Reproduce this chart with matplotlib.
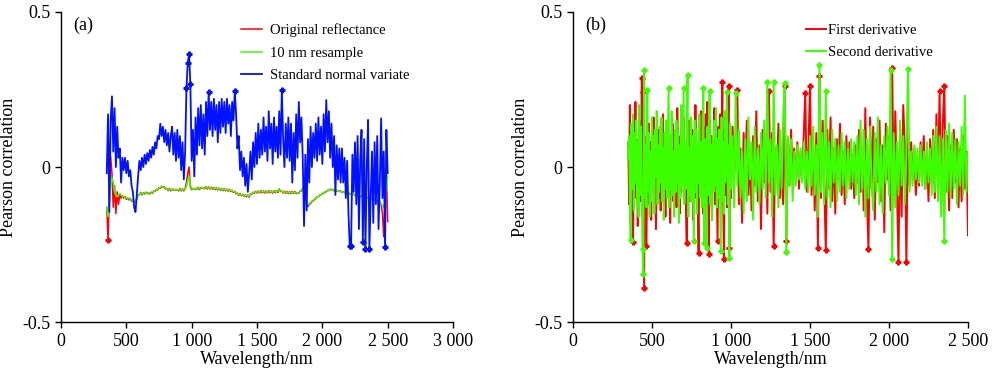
import matplotlib
matplotlib.use('Agg')
import matplotlib.pyplot as plt
import numpy as np

plt.rcParams['font.family'] = ['Liberation Serif', 'DejaVu Serif']
plt.rcParams['font.size'] = 13

RED = '#ff0000'
GREEN = '#3cff00'
BLUE = '#0011ff'

# ---- panel (a): correlation of raw / resampled / SNV spectra ----
WL_A = np.arange(350, 2501, 10)

ORIGINAL = [
    -0.13, -0.236, -0.09, 0.035, -0.02, -0.13, -0.06, -0.15, -0.08, -0.12,
    -0.09, -0.1, -0.092, -0.1, -0.095, -0.104, -0.1, -0.106, -0.101, -0.11,
    -0.106, -0.114, -0.11, -0.104, -0.09, -0.089, -0.082, -0.09, -0.083, -0.087,
    -0.081, -0.086, -0.083, -0.087, -0.081, -0.085, -0.077, -0.079, -0.072, -0.074,
    -0.066, -0.069, -0.062, -0.066, -0.063, -0.071, -0.069, -0.076, -0.069, -0.077,
    -0.071, -0.074, -0.072, -0.075, -0.073, -0.077, -0.069, -0.077, -0.07, -0.077,
    -0.07, -0.05, -0.02, 0.0, -0.065, -0.073, -0.07, -0.071, -0.069, -0.072,
    -0.065, -0.073, -0.066, -0.069, -0.067, -0.07, -0.063, -0.071, -0.064, -0.071,
    -0.065, -0.072, -0.066, -0.073, -0.067, -0.074, -0.068, -0.075, -0.069, -0.076,
    -0.07, -0.077, -0.071, -0.078, -0.072, -0.079, -0.075, -0.082, -0.078, -0.086,
    -0.084, -0.091, -0.085, -0.092, -0.088, -0.094, -0.09, -0.096, -0.09, -0.097,
    -0.086, -0.088, -0.081, -0.085, -0.078, -0.084, -0.077, -0.083, -0.076, -0.083,
    -0.077, -0.084, -0.077, -0.083, -0.076, -0.083, -0.077, -0.084, -0.076, -0.083,
    -0.075, -0.082, -0.071, -0.079, -0.077, -0.084, -0.078, -0.085, -0.078, -0.086,
    -0.079, -0.086, -0.078, -0.085, -0.079, -0.086, -0.083, -0.085, -0.077, -0.078,
    -0.068, -0.07, -0.095, -0.114, -0.128, -0.12, -0.117, -0.111, -0.109, -0.105,
    -0.102, -0.096, -0.096, -0.09, -0.09, -0.085, -0.085, -0.08, -0.08, -0.075,
    -0.076, -0.071, -0.074, -0.072, -0.077, -0.072, -0.078, -0.076, -0.079, -0.077,
    -0.082, -0.08, -0.083, -0.081, -0.087, -0.082, -0.088, -0.086, -0.089, -0.087,
    -0.092, -0.09, -0.093, -0.091, -0.097, -0.092, -0.098, -0.096, -0.099, -0.097,
    -0.102, -0.1, -0.103, -0.102, -0.108, -0.103, -0.11, -0.108, -0.114, -0.112,
    -0.12, -0.15, -0.225, -0.1, -0.015, -0.176,
]

RESAMPLE = [
    -0.13, -0.16, -0.11, -0.06, -0.035, -0.05, -0.08, -0.09, -0.095, -0.09,
    -0.085, -0.09, -0.095, -0.094, -0.098, -0.1, -0.102, -0.1, -0.104, -0.106,
    -0.108, -0.11, -0.108, -0.1, -0.092, -0.086, -0.084, -0.087, -0.085, -0.083,
    -0.084, -0.082, -0.085, -0.083, -0.084, -0.082, -0.079, -0.076, -0.074, -0.071,
    -0.068, -0.066, -0.064, -0.063, -0.065, -0.068, -0.071, -0.073, -0.071, -0.074,
    -0.073, -0.071, -0.074, -0.072, -0.075, -0.074, -0.071, -0.074, -0.072, -0.074,
    -0.072, -0.062, -0.045, -0.03, -0.058, -0.07, -0.072, -0.068, -0.071, -0.069,
    -0.067, -0.07, -0.068, -0.066, -0.069, -0.067, -0.065, -0.068, -0.066, -0.068,
    -0.067, -0.069, -0.068, -0.07, -0.069, -0.071, -0.07, -0.072, -0.071, -0.073,
    -0.072, -0.074, -0.073, -0.075, -0.074, -0.076, -0.077, -0.079, -0.08, -0.083,
    -0.086, -0.088, -0.087, -0.089, -0.09, -0.091, -0.092, -0.093, -0.092, -0.094,
    -0.088, -0.085, -0.083, -0.082, -0.08, -0.081, -0.079, -0.08, -0.078, -0.08,
    -0.079, -0.081, -0.079, -0.08, -0.078, -0.08, -0.079, -0.081, -0.078, -0.08,
    -0.077, -0.079, -0.074, -0.076, -0.079, -0.081, -0.08, -0.082, -0.08, -0.083,
    -0.081, -0.083, -0.08, -0.082, -0.081, -0.083, -0.085, -0.082, -0.079, -0.075,
    -0.07, -0.066, -0.09, -0.11, -0.122, -0.118, -0.114, -0.11, -0.107, -0.104,
    -0.1, -0.097, -0.094, -0.091, -0.088, -0.086, -0.083, -0.081, -0.078, -0.076,
    -0.074, -0.073, -0.072, -0.074, -0.075, -0.073, -0.076, -0.078, -0.077, -0.079,
    -0.08, -0.082, -0.081, -0.083, -0.085, -0.084, -0.086, -0.088, -0.087, -0.089,
    -0.09, -0.092, -0.091, -0.093, -0.095, -0.094, -0.096, -0.098, -0.097, -0.099,
    -0.1, -0.102, -0.101, -0.104, -0.106, -0.105, -0.108, -0.11, -0.112, -0.115,
    -0.118, -0.125, -0.13, -0.11, -0.07, -0.03,
]

SNV = [
    -0.02, 0.17, -0.145, 0.15, 0.228, 0.05, 0.19, 0.0, 0.13, 0.03,
    0.06, -0.05, 0.03, -0.01, 0.03, -0.02, 0.02, -0.03, -0.01, -0.06,
    -0.08, -0.13, -0.145, -0.09, -0.03, 0.02, -0.01, 0.03, 0.0, 0.04,
    0.01, 0.045, 0.02, 0.055, 0.03, 0.065, 0.04, 0.08, 0.06, 0.1,
    0.09, 0.14, 0.1, 0.13, 0.08, 0.12, 0.07, 0.11, 0.05, 0.1,
    0.13, 0.04, 0.11, 0.02, 0.12, 0.03, 0.1, -0.01, 0.08, -0.04,
    0.05, 0.254, 0.337, 0.364, 0.267, 0.02, 0.12, -0.03, 0.16, 0.04,
    0.19, 0.07, 0.2, 0.06, 0.17, 0.04, 0.21, 0.1, 0.242, 0.12,
    0.21, 0.1, 0.22, 0.12, 0.2, 0.08, 0.21, 0.11, 0.22, 0.13,
    0.21, 0.11, 0.22, 0.14, 0.2, 0.1, 0.21, 0.15, 0.245, 0.17,
    0.06, 0.1, -0.01, 0.05, -0.03, 0.03, -0.06, 0.01, -0.08, -0.02,
    0.05, -0.04, 0.08, 0.0, 0.11, 0.01, 0.14, 0.03, 0.12, 0.04,
    0.16, 0.05, 0.13, 0.02, 0.18, 0.06, 0.14, 0.01, 0.16, 0.05,
    0.13, 0.03, 0.18, 0.04, 0.249, 0.09, 0.0, 0.14, 0.03, 0.16,
    0.02, 0.14, -0.05, 0.11, -0.01, 0.17, 0.03, 0.21, 0.08, 0.16,
    0.03, -0.19, 0.04, -0.14, 0.09, -0.05, 0.13, 0.0, 0.11, 0.03,
    0.14, 0.02, 0.16, 0.04, 0.13, 0.01, 0.17, 0.05, 0.216, 0.08,
    0.18, 0.03, 0.14, 0.0, 0.1, -0.09, 0.07, -0.04, 0.06, -0.05,
    0.06, -0.05, 0.03, -0.1, 0.02, -0.15, -0.256, -0.256, 0.04, -0.08,
    0.08, -0.12, 0.1, -0.2, 0.02, 0.12, -0.243, 0.09, -0.265, 0.0,
    0.152, -0.265, -0.1, 0.05, -0.18, 0.08, -0.12, 0.1, -0.2, -0.05,
    0.157, -0.1, 0.05, -0.259, 0.12, -0.02,
]

# ---- panel (b): correlation of derivative spectra ----
WL_B = np.concatenate([np.arange(350, 1000, 5), np.arange(1000, 2501, 10)])

FIRST_DER = [
    0.08, -0.12, 0.2, -0.05, 0.1, -0.15, -0.241, 0.12, -0.06, 0.21,
    -0.1, 0.04, -0.19, 0.09, -0.03, 0.15, -0.11, 0.286, 0.243, -0.06,
    -0.391, 0.1, -0.07, -0.255, 0.06, -0.12, 0.14, -0.02, 0.08, -0.17,
    0.11, -0.05, 0.16, -0.09, 0.03, -0.2, 0.07, -0.04, 0.12, -0.1,
    0.05, -0.14, 0.1, -0.02, 0.17, -0.08, 0.03, -0.16, 0.09, -0.06,
    0.12, -0.1, 0.06, -0.18, 0.04, -0.03, 0.14, -0.11, 0.07, -0.07,
    0.03, -0.13, 0.19, -0.02, 0.1, -0.15, 0.05, -0.08, 0.11, -0.04,
    0.16, -0.09, 0.06, -0.14, -0.244, 0.1, -0.05, 0.15, -0.11, 0.04,
    -0.06, 0.12, -0.17, 0.07, -0.03, 0.2, -0.1, 0.05, -0.13, -0.276,
    0.11, -0.04, 0.18, -0.08, 0.09, -0.15, 0.13, -0.05, 0.17, -0.11,
    0.21, -0.06, -0.28, 0.15, -0.09, 0.1, -0.17, 0.06, -0.03, 0.19,
    -0.12, 0.09, -0.07, -0.238, 0.13, -0.04, 0.17, -0.1, 0.07, 0.275,
    -0.06, -0.296, 0.12, -0.09, 0.18, -0.13, 0.1, 0.262, -0.262, 0.06,
    -0.1, 0.13, -0.04, 0.09, 0.25, -0.12, 0.06, -0.18, 0.11, -0.03,
    0.15, -0.09, 0.04, -0.14, 0.1, -0.06, 0.18, -0.11, 0.07, -0.2,
    0.12, -0.05, 0.09, -0.15, 0.245, -0.08, 0.11, -0.254, 0.06, -0.04,
    0.14, -0.1, 0.05, -0.12, 0.262, -0.239, 0.09, -0.06, 0.12, -0.03,
    0.06, -0.04, 0.08, -0.07, 0.05, -0.02, 0.1, 0.24, -0.08, 0.06,
    0.261, -0.09, 0.07, -0.14, 0.11, -0.26, 0.295, -0.1, 0.15, -0.06,
    -0.268, 0.12, -0.07, 0.16, -0.11, 0.06, -0.15, 0.09, -0.04, 0.14,
    -0.09, 0.05, -0.12, 0.1, -0.03, 0.08, -0.07, 0.04, -0.1, 0.07,
    -0.05, 0.12, -0.08, 0.06, -0.14, 0.19, -0.1, -0.265, 0.16, -0.07,
    0.13, -0.17, 0.09, -0.05, 0.15, -0.11, 0.07, -0.21, 0.14, -0.04,
    0.1, -0.14, 0.32, -0.09, 0.18, -0.06, -0.307, 0.12, -0.16, 0.2,
    0.07, -0.307, 0.14, -0.06, 0.08, -0.04, 0.06, -0.09, 0.03, -0.06,
    0.08, -0.03, 0.1, -0.07, 0.04, -0.11, 0.09, -0.05, 0.12, -0.1,
    0.17, -0.06, 0.244, -0.12, 0.13, 0.262, -0.08, 0.1, -0.14, 0.07,
    -0.1, 0.12, -0.05, 0.09, -0.13, 0.06, -0.11, 0.1, -0.07, 0.05,
    -0.22,
]

SECOND_DER = [
    0.03, 0.1, -0.12, -0.236, 0.14, -0.07, 0.17, -0.14, 0.11, -0.05,
    0.15, -0.12, 0.08, -0.16, 0.2, -0.09, 0.13, -0.06, -0.263, -0.346,
    0.312, -0.1, 0.07, -0.13, 0.247, -0.08, 0.11, -0.16, 0.05, -0.11,
    0.16, -0.06, 0.1, -0.15, 0.12, -0.03, 0.18, -0.12, 0.07, -0.08,
    0.13, -0.05, 0.16, -0.11, 0.06, -0.17, 0.11, -0.07, 0.15, -0.1,
    0.08, 0.254, -0.13, 0.1, -0.07, 0.18, -0.09, 0.05, -0.16, 0.12,
    -0.08, 0.15, -0.05, 0.11, -0.18, 0.07, -0.1, 0.2, -0.06, 0.09,
    0.256, -0.12, 0.08, -0.07, 0.13, 0.297, -0.16, 0.06, -0.09, 0.16,
    -0.11, 0.1, -0.06, -0.237, 0.15, -0.08, 0.12, -0.15, 0.07, -0.05,
    0.17, -0.1, 0.08, -0.13, 0.11, 0.256, -0.245, 0.09, -0.07, -0.26,
    0.13, -0.09, 0.16, 0.245, -0.12, 0.07, -0.17, 0.1, -0.08, 0.15,
    -0.06, 0.19, -0.13, 0.09, -0.1, 0.12, -0.07, -0.27, 0.16, -0.11,
    0.08, -0.15, 0.18, -0.05, 0.1, 0.243, -0.12, 0.07, -0.294, 0.14,
    -0.07, 0.1, -0.13, 0.24, -0.06, 0.12, -0.1, 0.05, -0.15, 0.09,
    -0.11, 0.16, -0.04, 0.08, -0.17, 0.13, -0.08, 0.06, -0.12, 0.11,
    -0.07, 0.15, -0.1, 0.274, -0.05, 0.09, -0.16, 0.274, -0.09, 0.07,
    -0.13, 0.12, -0.07, 0.16, 0.272, -0.275, 0.1, -0.06, 0.09, -0.11,
    0.05, -0.06, 0.07, -0.04, 0.06, -0.05, 0.08, -0.07, 0.05, -0.08,
    0.1, -0.06, 0.13, -0.09, 0.07, -0.16, 0.328, -0.08, 0.11, -0.12,
    0.244, -0.1, 0.08, -0.13, 0.12, -0.05, 0.09, -0.11, 0.07, -0.08,
    0.11, -0.06, 0.08, -0.1, 0.06, -0.07, 0.09, -0.05, 0.08, -0.09,
    0.1, -0.12, 0.15, -0.07, 0.12, -0.16, 0.09, -0.1, 0.13, -0.06,
    -0.14, 0.11, -0.08, 0.16, -0.12, 0.07, -0.15, 0.1, -0.05, 0.13,
    -0.09, 0.313, -0.298, 0.11, -0.13, 0.08, -0.09, 0.15, -0.06, 0.1,
    -0.12, 0.05, 0.317, -0.08, 0.05, -0.06, 0.07, -0.04, 0.06, -0.05,
    0.07, -0.06, 0.05, -0.07, 0.08, -0.05, 0.06, -0.09, 0.1, -0.08,
    0.13, -0.11, 0.1, -0.16, 0.09, -0.24, 0.12, -0.08, 0.14, -0.1,
    0.11, -0.07, 0.09, -0.12, 0.08, -0.06, 0.13, -0.09, 0.23, -0.08,
    0.05,
]

# bands with |r| above this are marked
SIG_LEVEL = 0.235


def plot_series(ax, x, y, color, label, lw=1.1):
    y = np.asarray(y)
    ax.plot(x, y, color=color, linewidth=lw, label=label)
    mask = np.abs(y) >= SIG_LEVEL
    ax.plot(x[mask], y[mask], linestyle='none', marker='P', markersize=3.5,
            color=color)


def style_axes(ax, xmax, panel):
    ax.set_xlim(0, xmax)
    ax.set_ylim(-0.5, 0.5)
    ax.spines['top'].set_visible(False)
    ax.spines['right'].set_visible(False)
    ax.spines['left'].set_linewidth(1.0)
    ax.spines['bottom'].set_linewidth(1.0)
    ax.tick_params(direction='out', length=4, width=1.0, labelsize=13)
    xt = np.arange(0, xmax + 1, 500)
    ax.set_xticks(xt)
    ax.set_xticklabels([f'{v:,}'.replace(',', ' ') for v in xt])
    ax.set_yticks([-0.5, 0, 0.5])
    ax.set_yticklabels(['-0.5', '0', '0.5'])
    ax.set_xlabel('Wavelength/nm', fontsize=13, labelpad=1)
    ax.set_ylabel('Pearson correlation', fontsize=13)
    ax.text(0.03, 0.985, panel, transform=ax.transAxes, ha='left', va='top',
            fontsize=13)


fig = plt.figure(figsize=(10, 3.75), dpi=100)
ax1 = fig.add_axes([0.061, 0.141, 0.392, 0.827])
ax2 = fig.add_axes([0.573, 0.141, 0.395, 0.827])

plot_series(ax1, WL_A, ORIGINAL, RED, 'Original reflectance')
plot_series(ax1, WL_A, RESAMPLE, GREEN, '10 nm resample')
plot_series(ax1, WL_A, SNV, BLUE, 'Standard normal variate', lw=1.3)
style_axes(ax1, 3000, '(a)')
h, l = ax1.get_legend_handles_labels()
ax1.legend(h, l, loc='upper left', bbox_to_anchor=(0.43, 1.0), frameon=False,
           fontsize=10.5, handlelength=1.4, handletextpad=0.6,
           labelspacing=0.62, borderpad=0.3)

plot_series(ax2, WL_B, FIRST_DER, RED, 'First derivative', lw=1.4)
plot_series(ax2, WL_B, SECOND_DER, GREEN, 'Second derivative', lw=1.4)
style_axes(ax2, 2500, '(b)')
h, l = ax2.get_legend_handles_labels()
ax2.legend(h, l, loc='upper left', bbox_to_anchor=(0.56, 1.0), frameon=False,
           fontsize=10.5, handlelength=1.4, handletextpad=0.1,
           labelspacing=0.62, borderpad=0.3)

fig.savefig('out.png', dpi=100)
